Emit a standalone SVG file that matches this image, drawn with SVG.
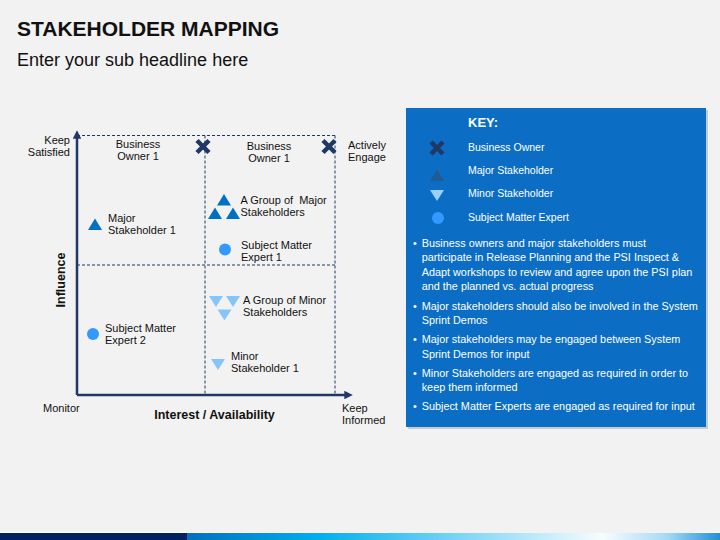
<svg xmlns="http://www.w3.org/2000/svg" width="720" height="540" viewBox="0 0 720 540">
<defs>
<style>
.t{font-family:"Liberation Sans",Arial,sans-serif;font-size:11px;fill:#111}
.b{font-weight:bold}
.k{font-family:"Liberation Sans",Arial,sans-serif;font-size:10.5px;fill:#fff}
.kb{font-family:"Liberation Sans",Arial,sans-serif;font-size:10.85px;fill:#fff}
.dash{stroke:#1F3864;stroke-width:1;stroke-dasharray:3 2;fill:none}
.axis{stroke:#1F3864;stroke-width:2.5;fill:none}
.major{fill:#0070C0}
.minor{fill:#85C6FA}
.sme{fill:#3399FF}
.bo{stroke:#1F3864;stroke-width:4.5;fill:none}
</style>
<marker id="arr" viewBox="0 0 10 10" refX="2" refY="5" markerWidth="3.4" markerHeight="3.4" orient="auto">
<path d="M0,0 L10,5 L0,10 z" fill="#1F3864"/>
</marker>
<linearGradient id="bar" x1="187" y1="0" x2="720" y2="0" gradientUnits="userSpaceOnUse">
<stop offset="0" stop-color="#0070C0"/>
<stop offset="0.25" stop-color="#00B0F0"/>
<stop offset="0.72" stop-color="#DDF3FC"/>
<stop offset="0.78" stop-color="#F8FCFE"/>
<stop offset="0.9" stop-color="#A6DAF4"/>
<stop offset="1" stop-color="#1E90D8"/>
</linearGradient>
<g id="xmark"><path class="bo" d="M-6,-6 L6,6 M6,-6 L-6,6"/></g>
<path id="up" d="M0,-6 L7,5.5 L-7,5.5 z"/>
<path id="down" d="M0,5.5 L7,-5.5 L-7,-5.5 z"/>
</defs>
<rect width="720" height="540" fill="#F2F2F2"/>

<g id="header">
<text class="t b" x="17" y="36" style="font-size:21px">STAKEHOLDER MAPPING</text>
<text class="t" x="17" y="66" style="font-size:18px">Enter your sub headline here</text>
</g>

<g id="connectors">
<line class="dash" x1="77" y1="135.5" x2="335" y2="135.5"/>
<line class="dash" x1="335" y1="135.5" x2="335" y2="395"/>
<line class="dash" x1="205" y1="135.5" x2="205" y2="395"/>
<line class="dash" x1="77" y1="265" x2="335" y2="265"/>
<line class="axis" x1="77" y1="395" x2="77" y2="137" marker-end="url(#arr)"/>
<line class="axis" x1="77" y1="395" x2="346" y2="395" marker-end="url(#arr)"/>
</g>

<g id="axis-labels">
<text class="t" x="70" y="144" text-anchor="end">Keep</text>
<text class="t" x="70" y="155.5" text-anchor="end">Satisfied</text>
<text class="t" x="348" y="149">Actively</text>
<text class="t" x="348" y="161">Engage</text>
<text class="t" x="43" y="412">Monitor</text>
<text class="t" x="342" y="412">Keep</text>
<text class="t" x="342" y="423.5">Informed</text>
<text class="t b" x="214.5" y="419" text-anchor="middle" style="font-size:12.5px">Interest / Availability</text>
<text class="t b" transform="translate(65,280) rotate(-90)" text-anchor="middle" style="font-size:12.5px">Influence</text>
</g>

<g id="bo1">
<use href="#xmark" x="203" y="146.5"/>
<text class="t" x="138" y="148" text-anchor="middle">Business</text>
<text class="t" x="138" y="159.5" text-anchor="middle">Owner 1</text>
</g>
<g id="bo2">
<use href="#xmark" x="329" y="146.5"/>
<text class="t" x="269" y="150" text-anchor="middle">Business</text>
<text class="t" x="269" y="161.5" text-anchor="middle">Owner 1</text>
</g>

<g id="major1">
<use href="#up" class="major" x="95" y="224.5"/>
<text class="t" x="108" y="222">Major</text>
<text class="t" x="108" y="233.5">Stakeholder 1</text>
</g>

<g id="major-group">
<use href="#up" class="major" x="224" y="200"/>
<use href="#up" class="major" x="215" y="213.5"/>
<use href="#up" class="major" x="233" y="213.5"/>
<text class="t" x="240.5" y="204" style="white-space:pre">A Group of  Major</text>
<text class="t" x="240.5" y="215.5">Stakeholders</text>
</g>

<g id="sme1">
<circle class="sme" cx="225" cy="249.5" r="6"/>
<text class="t" x="241" y="249">Subject Matter</text>
<text class="t" x="241" y="260.5">Expert 1</text>
</g>

<g id="minor-group">
<use href="#down" class="minor" x="216" y="301.5"/>
<use href="#down" class="minor" x="233" y="301.5"/>
<use href="#down" class="minor" x="224.5" y="315"/>
<text class="t" x="243" y="304">A Group of Minor</text>
<text class="t" x="243" y="315.5">Stakeholders</text>
</g>

<g id="minor1">
<use href="#down" class="minor" x="218" y="364.5"/>
<text class="t" x="231" y="360">Minor</text>
<text class="t" x="231" y="371.5">Stakeholder 1</text>
</g>

<g id="sme2">
<circle class="sme" cx="93" cy="334" r="6"/>
<text class="t" x="105" y="332">Subject Matter</text>
<text class="t" x="105" y="343.5">Expert 2</text>
</g>

<g id="key">
<rect x="408" y="110" width="300" height="319" fill="#BFBFBF" opacity="0.8"/>
<rect x="406" y="108" width="300" height="319" fill="#0B6EC4"/>
<text class="k b" x="468" y="127" style="font-size:13px">KEY:</text>
<use href="#xmark" x="437" y="148"/>
<text class="k" x="468" y="151">Business Owner</text>
<use href="#up" fill="#1F5B94" x="437" y="175.5"/>
<text class="k" x="468" y="174">Major Stakeholder</text>
<use href="#down" fill="#9AD0FF" x="437" y="195.5"/>
<text class="k" x="468" y="197">Minor Stakeholder</text>
<circle fill="#3399FF" cx="438" cy="218" r="6"/>
<text class="k" x="468" y="221">Subject Matter Expert</text>
<g>
<text class="kb" x="413" y="246.7">•</text>
<text class="kb" x="421.7" y="246.7">Business owners and major stakeholders must</text>
<text class="kb" x="421.7" y="261">participate in Release Planning and the PSI Inspect &amp;</text>
<text class="kb" x="421.7" y="275.5">Adapt workshops to review and agree upon the PSI plan</text>
<text class="kb" x="421.7" y="290">and the planned vs. actual progress</text>
<text class="kb" x="413" y="310">•</text>
<text class="kb" x="421.7" y="310">Major stakeholders should also be involved in the System</text>
<text class="kb" x="421.7" y="324.3">Sprint Demos</text>
<text class="kb" x="413" y="343.3">•</text>
<text class="kb" x="421.7" y="343.3">Major stakeholders may be engaged between System</text>
<text class="kb" x="421.7" y="357.7">Sprint Demos for input</text>
<text class="kb" x="413" y="376.7">•</text>
<text class="kb" x="421.7" y="376.7">Minor Stakeholders are engaged as required in order to</text>
<text class="kb" x="421.7" y="391">keep them informed</text>
<text class="kb" x="413" y="410">•</text>
<text class="kb" x="421.7" y="410">Subject Matter Experts are engaged as required for input</text>
</g>
</g>

<g id="footer">
<rect x="0" y="532" width="388" height="1" fill="#FFFFFF"/>
<rect x="695" y="532" width="25" height="1" fill="#FFFFFF"/>
<rect x="0" y="533" width="188" height="7" fill="#002060"/>
<rect x="187" y="533" width="533" height="7" fill="url(#bar)"/>
</g>
</svg>
